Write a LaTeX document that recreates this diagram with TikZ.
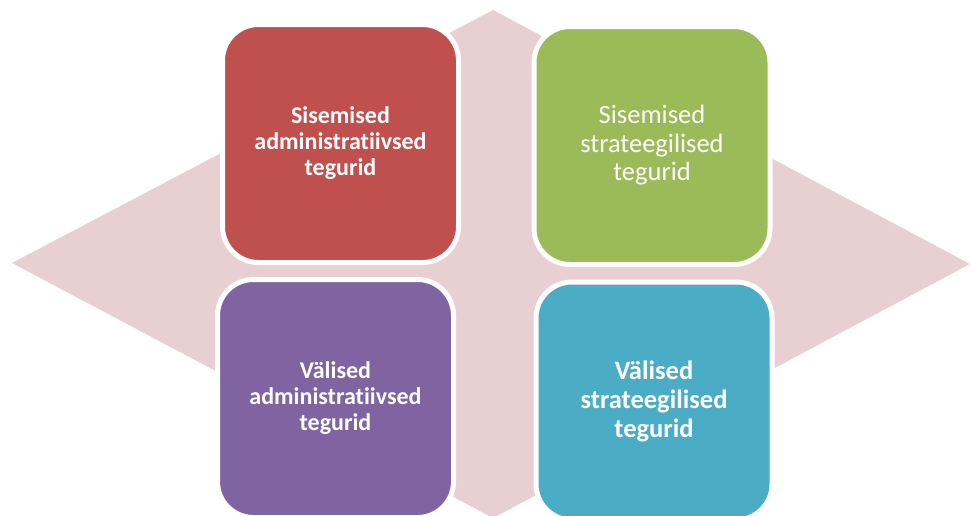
\documentclass[tikz,border=0pt]{standalone}
\usepackage{fontspec}
\setmainfont[RawFeature=-liga]{Carlito}
\definecolor{diamondpink}{HTML}{E8D0D2}
\definecolor{boxred}{HTML}{C0504D}
\definecolor{boxgreen}{HTML}{9BBB59}
\definecolor{boxpurple}{HTML}{8064A2}
\definecolor{boxteal}{HTML}{4BACC6}
\begin{document}
\begin{tikzpicture}[x=1pt,y=-1pt,
  factor/.style={draw=white, line width=5pt, rounded corners=36pt,
    minimum width=236pt, minimum height=238pt, text=white, align=center,
    font=\fontsize{26.5}{28.5}\selectfont, inner sep=0pt},
  boldfactor/.style={factor, font=\fontsize{24}{26}\selectfont\bfseries}]
\clip (0,0) rectangle (971,515);
% background diamond
\coordinate (left) at (12,263);
\coordinate (top) at (493,10);
\coordinate (right) at (970,264);
\coordinate (bottom) at (493,518);
\fill [diamondpink] (left) -- (top) -- (right) -- (bottom) -- cycle;
% the four boxes
\node [boldfactor, fill=boxred] (sisadm) at (340.5,143.5) {Sisemised\\administratiivsed\\tegurid};
\node [factor, fill=boxgreen] (sisstr) at (652,145.5) {Sisemised\\strateegilised\\tegurid};
\node [boldfactor, fill=boxpurple] (valadm) at (335.5,398.5) {Välised\\administratiivsed\\tegurid};
\node [boldfactor, fill=boxteal, font=\fontsize{26.5}{29}\selectfont\bfseries] (valstr) at (654,401) {Välised\\strateegilised\\tegurid};
\end{tikzpicture}
\end{document}
